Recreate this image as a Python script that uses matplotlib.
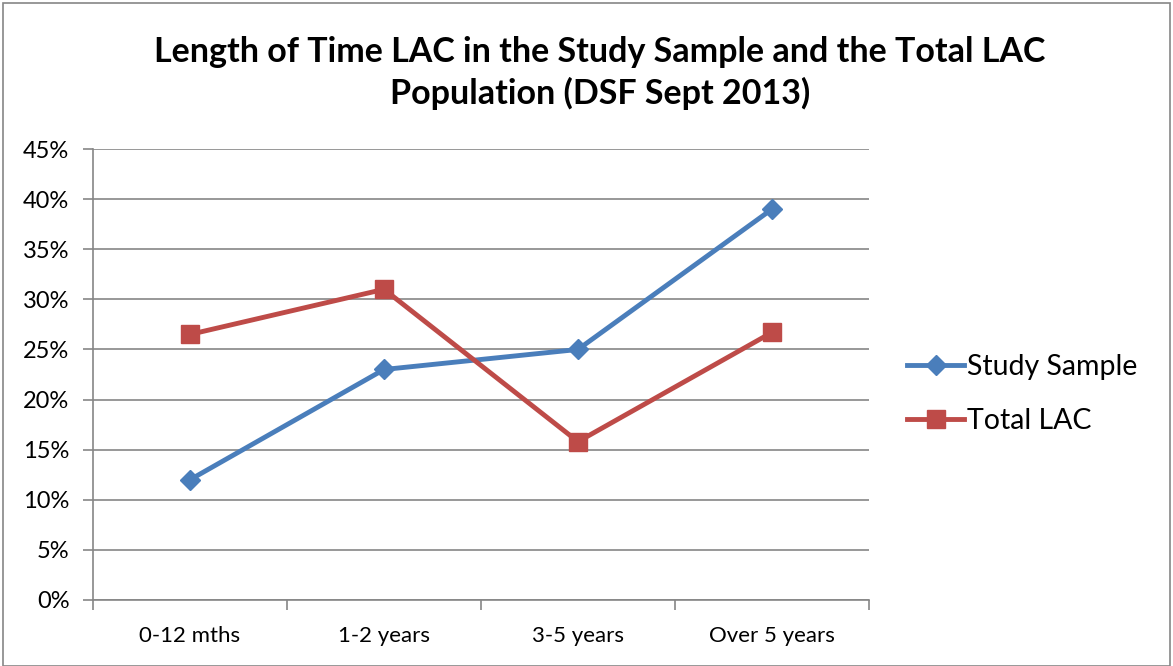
import matplotlib
matplotlib.use("Agg")
import matplotlib.pyplot as plt
from matplotlib.patches import Rectangle
from matplotlib.ticker import FixedLocator, FuncFormatter

categories = ["0-12 mths", "1-2 years", "3-5 years", "Over 5 years"]
study_sample = [12.0, 23.0, 25.0, 39.0]
total_lac = [26.5, 31.0, 15.8, 26.7]
y_ticks = [0, 5, 10, 15, 20, 25, 30, 35, 40, 45]

plt.rcParams['font.family'] = ['Lato', 'DejaVu Sans']

W, H = 1173, 666
fig = plt.figure(figsize=(W / 100, H / 100), dpi=100)
fig.patches.append(Rectangle((3 / W, 0), 1 - 6 / W, 1 - 3 / H, transform=fig.transFigure,
                             fill=False, edgecolor='#868686', linewidth=1.2))

ax = fig.add_axes([93 / W, 1 - 600 / H, (869 - 93) / W, (600 - 149) / H])
x = list(range(len(categories)))
blue = '#4A7EBB'
red = '#BE4B48'
ax.plot(x, study_sample, color=blue, linewidth=3.5, marker='D', markersize=10,
        markerfacecolor=blue, markeredgecolor=blue, label='Study Sample', zorder=3)
ax.plot(x, total_lac, color=red, linewidth=3.5, marker='s', markersize=13,
        markerfacecolor=red, markeredgecolor=red, label='Total LAC', zorder=3)

ax.set_xlim(-0.5, len(categories) - 0.5)
ax.set_ylim(0, 45)
ax.yaxis.set_major_locator(FixedLocator(y_ticks))
ax.yaxis.set_major_formatter(FuncFormatter(lambda v, p: f"{int(v)}%"))
ax.grid(axis='y', color='#868686', linewidth=1.2)
ax.set_axisbelow(True)

ax.xaxis.set_major_locator(FixedLocator([i - 0.5 for i in range(len(categories) + 1)]))
ax.xaxis.set_major_formatter(FuncFormatter(lambda v, p: ""))
ax.xaxis.set_minor_locator(FixedLocator(x))
ax.set_xticklabels(categories, minor=True)
ax.tick_params(axis='x', which='minor', length=0, pad=19, labelsize=16)
ax.tick_params(axis='x', which='major', length=7, width=1.2, color='#868686', direction='out')
ax.tick_params(axis='y', length=7, width=1.2, color='#868686', labelsize=17, pad=10)

for s in ['top', 'right']:
    ax.spines[s].set_visible(False)
for s in ['left', 'bottom']:
    ax.spines[s].set_color('#868686')
    ax.spines[s].set_linewidth(1.2)

fig.text(600 / W, 1 - 73 / H, "Length of Time LAC in the Study Sample and the Total LAC\nPopulation (DSF Sept 2013)",
         ha='center', va='center', fontsize=24.5, fontweight='bold', linespacing=1.35)

leg = fig.legend(loc='center left', bbox_to_anchor=(896 / W, 1 - 394 / H), frameon=False,
                 fontsize=20.5, handlelength=2.0, handletextpad=0.1, labelspacing=1.0, borderaxespad=0)

fig.savefig("out.png", dpi=100)
